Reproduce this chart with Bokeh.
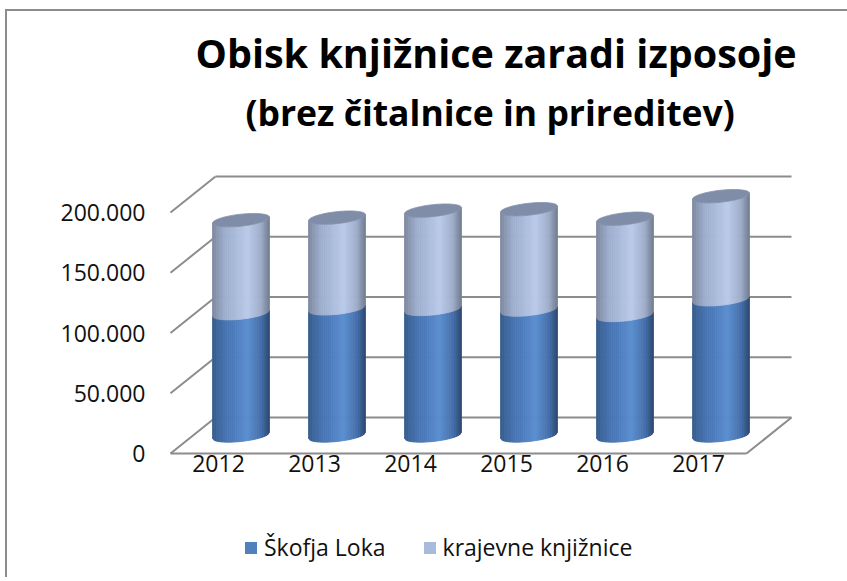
import math
from bokeh.plotting import figure
from bokeh.layouts import column
from bokeh.models import (FixedTicker, Range1d, Title, Legend, LegendItem, ColumnDataSource)
from bokeh.embed import file_html
from bokeh.resources import INLINE

# ---------------- data ----------------
years = ["2012", "2013", "2014", "2015", "2016", "2017"]
skofja_loka = [101500, 105500, 105000, 104500, 100000, 113000]
krajevne = [77200, 75300, 81600, 83300, 79900, 85600]
y_ticks = [0, 50000, 100000, 150000, 200000]
y_tick_labels = ["0", "50.000", "100.000", "150.000", "200.000"]
series_names = ["Škofja Loka", "krajevne knjižnice"]
series_colors = ["#4f81bd", "#a9badb"]
title_text = "Obisk knjižnice zaradi izposoje"
subtitle_text = "(brez čitalnice in prireditev)"

# ---------------- layout (page pixels, converted to canvas) ----------------
OX, OY = 7, 11                      # page position of the canvas (after margin + border)
W = 840
H_CHART, H_LEG = 490, 76
FRAME_L, FRAME_R = 160 - OX, W
FRAME_T, FRAME_B = 140 - OY, 455 - OY
PX_X = 96.0                         # px per category
PX_V = 241.0 / 200000               # px per value unit
X0_PX = 218 - OX                    # canvas x of first category (front plane)
V0_PX = 453 - OY                    # canvas y of value 0 (front plane)
DEPTH_X_PX, DEPTH_Y_PX = 45, 36
CYL_HALF_W_PX = 28.5
ELL_B_PX = 6.0
TILT_PX = 3.0
FONT = "Open Sans"

dx = DEPTH_X_PX / PX_X
dy = DEPTH_Y_PX / PX_V
a = CYL_HALF_W_PX / PX_X
b = ELL_B_PX / PX_V
t = TILT_PX / PX_V

x_start = (FRAME_L - X0_PX) / PX_X
x_end = (FRAME_R - X0_PX) / PX_X
y_start = (V0_PX - FRAME_B) / PX_V
y_end = (V0_PX - FRAME_T) / PX_V

p = figure(width=W, height=H_CHART, x_range=Range1d(x_start, x_end),
           y_range=Range1d(y_start, y_end),
           output_backend="svg", toolbar_location=None,
           min_border_left=FRAME_L, min_border_right=W - FRAME_R,
           min_border_top=FRAME_T, min_border_bottom=H_CHART - FRAME_B)
p.outline_line_color = None
p.background_fill_color = "white"
p.border_fill_color = "white"
p.xgrid.visible = False
p.ygrid.visible = False

# titles
p.add_layout(Title(text=subtitle_text, align="left", offset=245 - 160, text_font=FONT,
                   text_font_size="35.5px", text_font_style="bold", text_color="black",
                   standoff=10), "above")
p.add_layout(Title(text=title_text, align="left", offset=195 - 160, text_font=FONT,
                   text_font_size="39.5px", text_font_style="bold", text_color="black",
                   standoff=1), "above")

# axes
p.yaxis.ticker = FixedTicker(ticks=y_ticks)
p.yaxis.major_label_overrides = {v: s for v, s in zip(y_ticks, y_tick_labels)}
p.xaxis.ticker = FixedTicker(ticks=list(range(len(years))))
p.xaxis.major_label_overrides = {i: y for i, y in enumerate(years)}
for ax in (p.xaxis, p.yaxis):
    ax.axis_line_color = None
    ax.major_tick_line_color = None
    ax.minor_tick_line_color = None
    ax.major_tick_out = 0
    ax.major_tick_in = 0
    ax.minor_tick_out = 0
    ax.major_label_text_font = FONT
    ax.major_label_text_font_size = "23px"
    ax.major_label_text_color = "#111111"
p.yaxis.major_label_standoff = 15
p.xaxis.major_label_standoff = -1

# ---------------- 3D frame lines ----------------
n = len(years)
left_f, right_f = -0.5, n - 0.5
grid_col = "#8c8c8c"
seg = dict(x0=[], y0=[], x1=[], y1=[])
for v in y_ticks:
    seg["x0"].append(left_f); seg["y0"].append(v)
    seg["x1"].append(left_f + dx); seg["y1"].append(v + dy)
    seg["x0"].append(left_f + dx); seg["y0"].append(v + dy)
    seg["x1"].append(right_f + dx); seg["y1"].append(v + dy)
seg["x0"] += [left_f, right_f]; seg["y0"] += [0, 0]
seg["x1"] += [right_f, right_f + dx]; seg["y1"] += [0, dy]
p.segment(x0="x0", y0="y0", x1="x1", y1="y1", source=ColumnDataSource(seg),
          line_color=grid_col, line_width=2)

# ---------------- cylinders ----------------
def lerp_stops(stops, u):
    for (u0, c0), (u1, c1) in zip(stops[:-1], stops[1:]):
        if u0 <= u <= u1:
            f = (u - u0) / (u1 - u0)
            c = [round(c0[k] + (c1[k] - c0[k]) * f) for k in range(3)]
            return "#%02x%02x%02x" % tuple(c)
    return "#%02x%02x%02x" % tuple(stops[-1][1])

dark_stops = [(-1, (56, 92, 140)), (-0.55, (70, 115, 175)), (0.25, (90, 142, 208)),
              (0.7, (70, 113, 172)), (1, (44, 72, 112))]
light_stops = [(-1, (126, 136, 158)), (-0.55, (158, 174, 206)), (0.25, (186, 202, 234)),
               (0.7, (160, 174, 204)), (1, (114, 124, 144))]
top_color = "#7f8da8"

NSTRIP = 30
strips = dict(xs=[], ys=[], color=[])
tops = dict(xs=[], ys=[])

def arc_y(level, u):
    return level - b * math.sqrt(max(0.0, 1 - u * u)) + t * u

for i in range(n):
    xc = i + dx / 2
    base = dy / 2
    mid = skofja_loka[i] + dy / 2
    top = skofja_loka[i] + krajevne[i] + dy / 2
    for lo, hi, stops in ((base, mid, dark_stops), (mid, top, light_stops)):
        for k in range(NSTRIP):
            u0 = -1 + 2 * k / NSTRIP
            u1 = -1 + 2 * (k + 1) / NSTRIP
            um = (u0 + u1) / 2
            strips["xs"].append([xc + a * u0, xc + a * u1, xc + a * u1, xc + a * u0])
            strips["ys"].append([arc_y(lo, u0), arc_y(lo, u1), arc_y(hi, u1), arc_y(hi, u0)])
            strips["color"].append(lerp_stops(stops, um))
    th = [2 * math.pi * j / 60 for j in range(60)]
    tops["xs"].append([xc + a * math.cos(q) for q in th])
    tops["ys"].append([top + b * math.sin(q) + t * math.cos(q) for q in th])

p.patches(xs="xs", ys="ys", source=ColumnDataSource(strips), fill_color="color",
          line_color="color", line_width=0.8)
p.patches(xs="xs", ys="ys", source=ColumnDataSource(tops), fill_color=top_color,
          line_color="#8593ad", line_width=0.8)

# ---------------- legend (own strip below the chart; frames are aligned) ----------------
q = figure(width=W, height=H_LEG, x_range=Range1d(0, 1), y_range=Range1d(0, 1),
           output_backend="svg", toolbar_location=None,
           x_axis_location=None, y_axis_location=None,
           min_border_left=0, min_border_right=0, min_border_top=0, min_border_bottom=0)
q.outline_line_color = None
q.xgrid.visible = False
q.ygrid.visible = False
q.border_fill_color = "white"
# legend swatch proxies, kept outside the visible range
proxies = [q.quad(left=[-3], right=[-2], top=[-2], bottom=[-3], fill_color=c, line_color=None)
           for c in series_colors]
legend = Legend(items=[LegendItem(label=nm, renderers=[r]) for nm, r in zip(series_names, proxies)],
                orientation="horizontal", location=(243 - 160, 14),
                glyph_width=15, glyph_height=15, label_standoff=6, spacing=36,
                padding=0, margin=0, border_line_color=None, background_fill_alpha=0,
                label_text_font=FONT, label_text_font_size="23px", label_text_color="#111111")
q.add_layout(legend, "center")

layout = column(p, q, spacing=0,
                styles={"margin-left": "5px", "margin-top": "9px",
                        "border-left": "2px solid #8c8c8c",
                        "border-top": "2px solid #8c8c8c"})

open("out.html", "w").write(file_html(layout, INLINE))
